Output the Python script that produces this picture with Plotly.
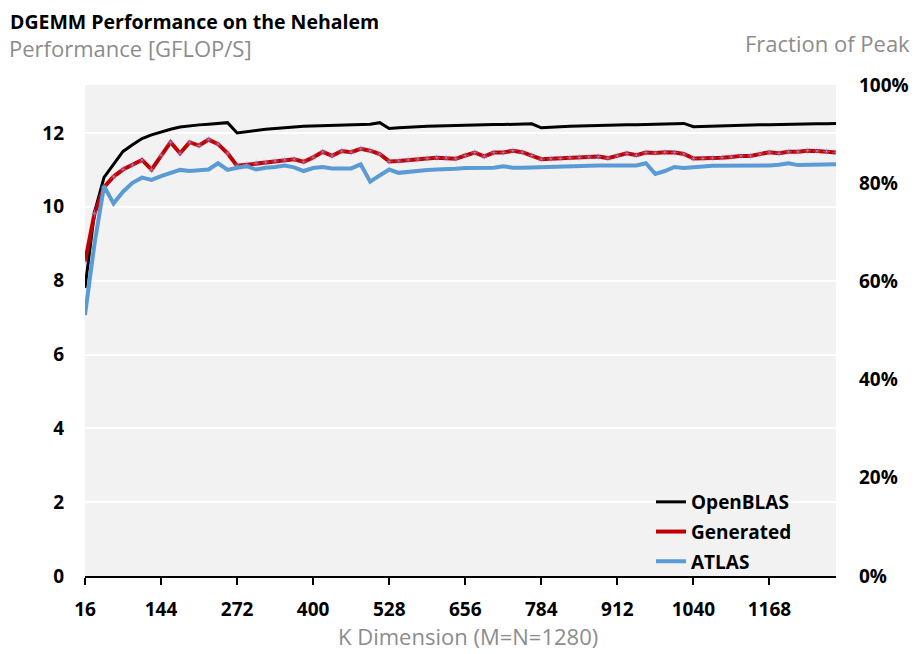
import plotly.graph_objects as go

K = list(range(16, 1281, 16))

openblas = [7.8, 9.85, 10.8, 11.15, 11.5, 11.68, 11.85, 11.95, 12.03, 12.1,
            12.16, 12.2, 12.22, 12.24, 12.26, 12.28, 12.0, 12.04, 12.07, 12.1,
            12.12, 12.15, 12.16, 12.18, 12.19, 12.2, 12.21, 12.22, 12.23, 12.23,
            12.24, 12.28, 12.12, 12.14, 12.16, 12.17, 12.18, 12.19, 12.2, 12.21,
            12.21, 12.22, 12.22, 12.23, 12.23, 12.24, 12.24, 12.25, 12.14, 12.16,
            12.17, 12.18, 12.19, 12.2, 12.2, 12.21, 12.21, 12.22, 12.22, 12.23,
            12.23, 12.23, 12.24, 12.26, 12.17, 12.18, 12.19, 12.2, 12.2, 12.21,
            12.21, 12.22, 12.22, 12.23, 12.23, 12.24, 12.24, 12.25, 12.25, 12.26]

generated = [8.51, 9.82, 10.53, 10.82, 11.01, 11.13, 11.27, 11.01, 11.4, 11.75,
             11.45, 11.75, 11.66, 11.82, 11.7, 11.45, 11.11, 11.14, 11.18, 11.21,
             11.24, 11.27, 11.29, 11.22, 11.34, 11.49, 11.38, 11.51, 11.48, 11.57,
             11.52, 11.43, 11.23, 11.24, 11.27, 11.29, 11.31, 11.33, 11.32, 11.3,
             11.39, 11.47, 11.37, 11.47, 11.47, 11.52, 11.48, 11.39, 11.29, 11.3,
             11.31, 11.33, 11.34, 11.35, 11.36, 11.32, 11.38, 11.45, 11.4, 11.47,
             11.46, 11.48, 11.47, 11.43, 11.31, 11.31, 11.32, 11.33, 11.35, 11.38,
             11.38, 11.43, 11.48, 11.45, 11.49, 11.49, 11.52, 11.51, 11.5, 11.47]

atlas = [7.07, 9.0, 10.56, 10.09, 10.41, 10.65, 10.79, 10.73, 10.83, 10.92,
         11.0, 10.97, 11.0, 11.01, 11.18, 11.0, 11.06, 11.1, 11.01, 11.06,
         11.08, 11.12, 11.07, 10.97, 11.05, 11.08, 11.04, 11.04, 11.04, 11.15,
         10.68, 10.85, 11.01, 10.92, 10.95, 10.97, 11.0, 11.01, 11.01, 11.03,
         11.05, 11.05, 11.06, 11.06, 11.1, 11.06, 11.06, 11.07, 11.06, 11.08,
         11.08, 11.09, 11.1, 11.11, 11.12, 11.12, 11.12, 11.11, 11.12, 11.18,
         10.89, 10.97, 11.08, 11.05, 11.08, 11.09, 11.11, 11.11, 11.12, 11.12,
         11.11, 11.11, 11.12, 11.14, 11.18, 11.13, 11.13, 11.13, 11.13, 11.15]

PEAK = 13.3
x_ticks = list(range(16, 1169, 128))
y_ticks = [0, 2, 4, 6, 8, 10, 12]
pct_ticks = [0, 0.2, 0.4, 0.6, 0.8, 1.0]

FONT = "Open Sans"
GRAY = "#8c8c8c"

# page body has an 8px margin: figure is shrunk so the plot lands at the reference spot
W, H = 910, 646
L, T, PW, PH = 77, 77, 751, 491

fig = go.Figure()
fig.add_trace(go.Scatter(x=K, y=openblas, name="OpenBLAS", mode="lines",
                         line=dict(color="#000000", width=3), legendgroup="a"))
fig.add_trace(go.Scatter(x=K, y=generated, name="Generated", mode="lines",
                         line=dict(color="#c00000", width=4), legendgroup="b"))
fig.add_trace(go.Scatter(x=K, y=generated, mode="markers", showlegend=False,
                         marker=dict(symbol="asterisk-open", size=6,
                                     color="rgba(165,165,240,0.45)",
                                     line=dict(width=1)),
                         hoverinfo="skip"))
fig.add_trace(go.Scatter(x=K, y=atlas, name="ATLAS", mode="lines",
                         line=dict(color="#5b9bd5", width=4), legendgroup="c"))
fig.add_trace(go.Scatter(x=K, y=[v / PEAK for v in openblas], yaxis="y2",
                         mode="lines", line=dict(width=0, color="rgba(0,0,0,0)"),
                         showlegend=False, hoverinfo="skip"))

fig.update_layout(
    width=W, height=H,
    margin=dict(l=L, r=W - L - PW, t=T, b=H - T - PH, autoexpand=False),
    paper_bgcolor="white",
    plot_bgcolor="#f2f2f2",
    font=dict(family=FONT, color="#000000"),
    showlegend=True,
    title=dict(text="<b>DGEMM Performance on the Nehalem</b>", xref="container",
               yref="container", x=2 / W, xanchor="left", y=1 - 14 / H,
               yanchor="middle", font=dict(family=FONT, size=19.5, color="#000000")),
    legend=dict(x=(651 - 85) / PW, y=(576 - 483) / PH, xanchor="left", yanchor="top",
                bgcolor="rgba(0,0,0,0)", traceorder="grouped", tracegroupgap=2,
                font=dict(family=FONT, size=19, color="#000000", weight="bold")),
    xaxis=dict(range=[16, 1280], tickvals=x_ticks, showgrid=False, zeroline=False,
               showline=True, linecolor="#000000", linewidth=2, automargin=False,
               ticks="outside", ticklen=7, tickwidth=2, tickcolor="#000000",
               tickfont=dict(family=FONT, size=19, weight="bold"),
               ticklabelstandoff=8),
    yaxis=dict(range=[0, PEAK], tickvals=y_ticks, showgrid=True, gridcolor="white",
               gridwidth=2, zeroline=False, showline=False, ticks="", automargin=False,
               tickfont=dict(family=FONT, size=19, weight="bold"),
               ticklabelstandoff=20),
    yaxis2=dict(range=[0, 1], overlaying="y", side="right", tickvals=pct_ticks,
                tickformat=".0%", showgrid=False, zeroline=False, showline=False,
                ticks="", automargin=False,
                tickfont=dict(family=FONT, size=19, weight="bold"),
                ticklabelstandoff=22),
    annotations=[
        dict(text="Performance [GFLOP/S]", xref="paper", yref="paper",
             x=-(85 - 7) / PW, y=1 + 37 / PH, xanchor="left", yanchor="middle",
             showarrow=False, font=dict(family=FONT, size=22, color=GRAY)),
        dict(text="Fraction of Peak", xref="paper", yref="paper",
             x=1 + (912 - 836) / PW, y=1 + 42 / PH, xanchor="right", yanchor="middle",
             showarrow=False, font=dict(family=FONT, size=22, color=GRAY)),
        dict(text="K Dimension (M=N=1280)", xref="paper", yref="paper",
             x=(468 - 85) / PW, y=-60 / PH, xanchor="center", yanchor="middle",
             showarrow=False, font=dict(family=FONT, size=22, color=GRAY)),
    ],
)

fig.write_html("out.html")
